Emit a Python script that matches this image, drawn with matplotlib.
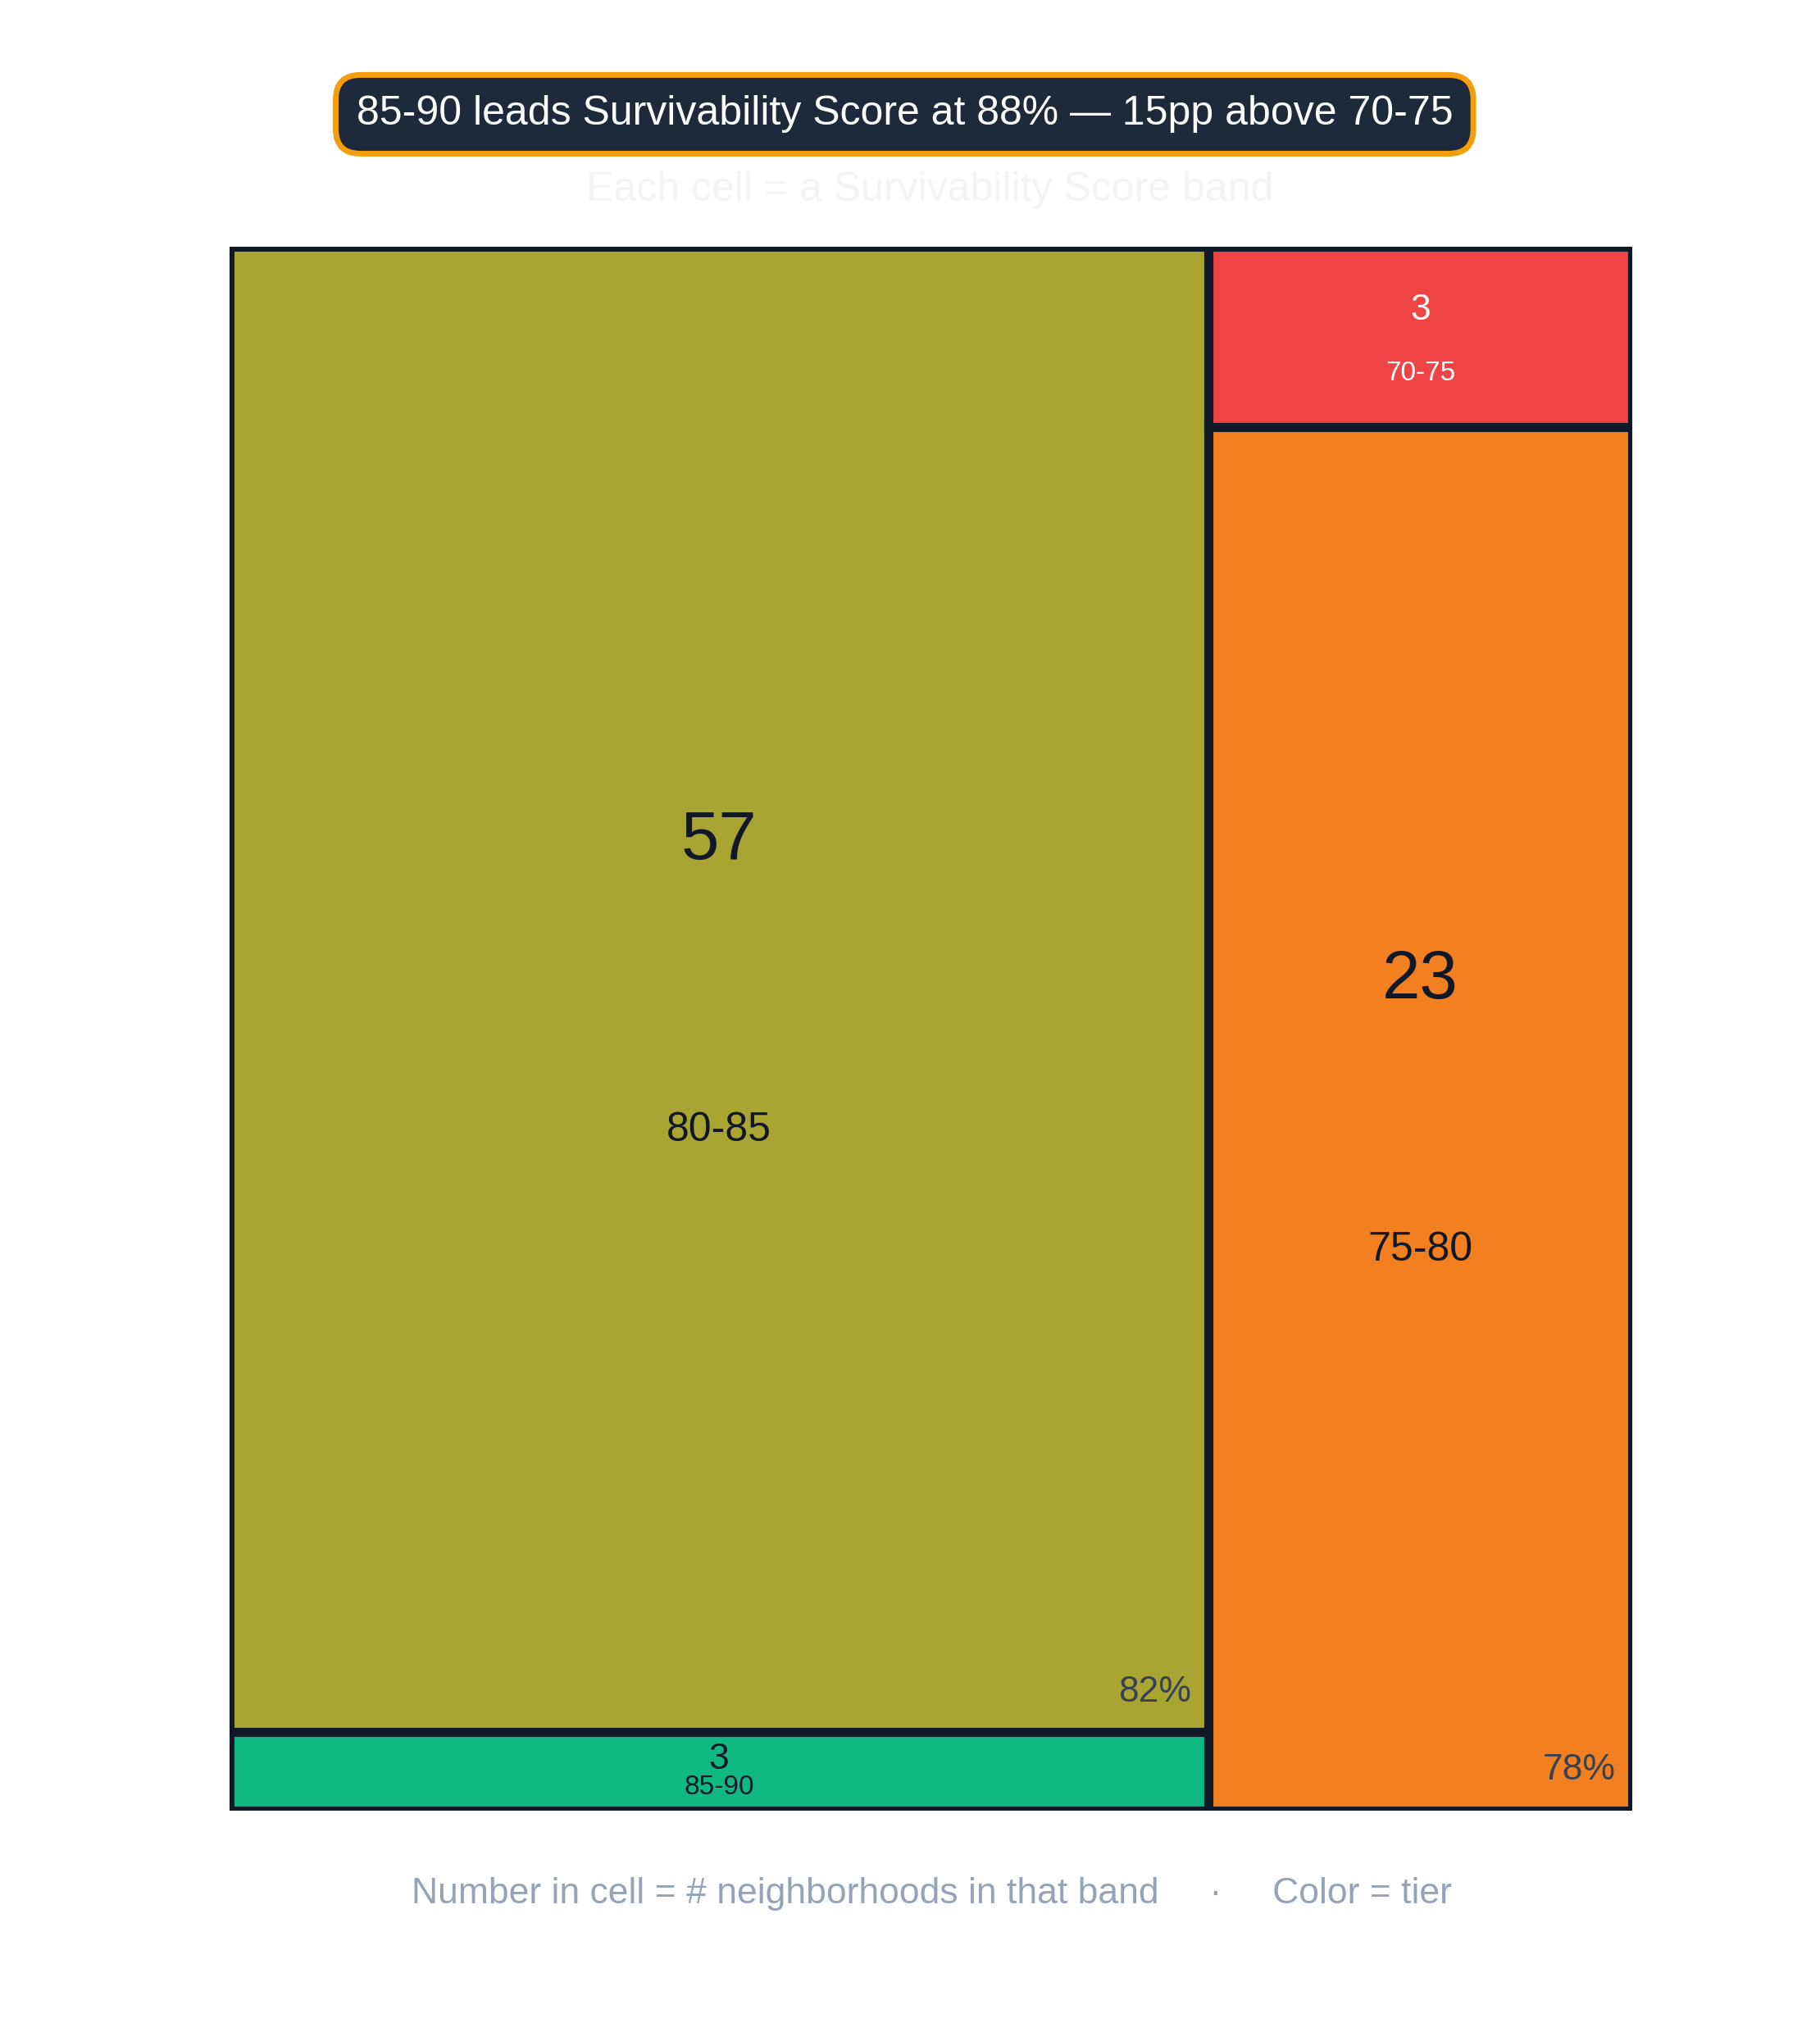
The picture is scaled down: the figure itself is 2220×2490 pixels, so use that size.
import matplotlib.pyplot as plt
from matplotlib.patches import Rectangle

plt.rcParams['font.family'] = ['Liberation Sans', 'DejaVu Sans']

# data
bands = ['80-85', '85-90', '70-75', '75-80']
counts = [57, 3, 3, 23]
colors = ['#A9A533', '#10B981', '#EF4444', '#F28021']
column = [0, 0, 1, 1]   # which column each band sits in
pct_labels = {'80-85': '82%', '75-80': '78%'}
small_text = {'80-85': '#111827', '85-90': '#111827', '70-75': 'white', '75-80': '#111827'}

fig = plt.figure(figsize=(11.1, 12.45), dpi=200)
ax = fig.add_axes([0.126, 0.113, 0.771, 0.766])
ax.set_xlim(0, 1)
ax.set_ylim(0, 1)
ax.axis('off')

total = sum(counts)
col_sums = [sum(c for c, k in zip(counts, column) if k == j) for j in (0, 1)]
x0 = 0
for j in (0, 1):
    w = col_sums[j] / total
    ytop = 1
    for b, c, col, k in zip(bands, counts, colors, column):
        if k != j:
            continue
        h = c / col_sums[j]
        y = ytop - h
        ax.add_patch(Rectangle((x0, y), w, h, facecolor=col, edgecolor='#111827', lw=4))
        cx, cy = x0 + w / 2, y + h / 2
        big = h > 0.3
        if big:
            ax.text(cx, cy + h * 0.1, str(c), ha='center', va='center', fontsize=30, color='#111827')
            ax.text(cx, cy - h * 0.095, b, ha='center', va='center', fontsize=18, color='#111827')
        else:
            tc = small_text[b]
            ax.text(cx, cy + h * 0.15, str(c), ha='center', va='center', fontsize=16, color=tc)
            ax.text(cx, cy - h * 0.2, b, ha='center', va='center', fontsize=12, color=tc)
        if b in pct_labels:
            ax.text(x0 + w - 0.012, y + 0.015, pct_labels[b], ha='right', va='bottom',
                    fontsize=16, color='#374151')
        ytop = y
    x0 += w

fig.text(0.497, 0.944, '85-90 leads Survivability Score at 88% — 15pp above 70-75',
         ha='center', va='center', fontsize=18, color='white',
         bbox=dict(boxstyle='round,pad=0.5,rounding_size=0.6', facecolor='#1E293B',
                   edgecolor='#F59E0B', lw=2.5))
fig.text(0.511, 0.907, 'Each cell = a Survivability Score band', ha='center', va='center',
         fontsize=18, color='#F3F4F6')
fig.text(0.512, 0.072, 'Number in cell = # neighborhoods in that band     ·     Color = tier',
         ha='center', va='center', fontsize=16, color='#94A3B8')

fig.savefig('out.png', dpi=200, facecolor='white')
